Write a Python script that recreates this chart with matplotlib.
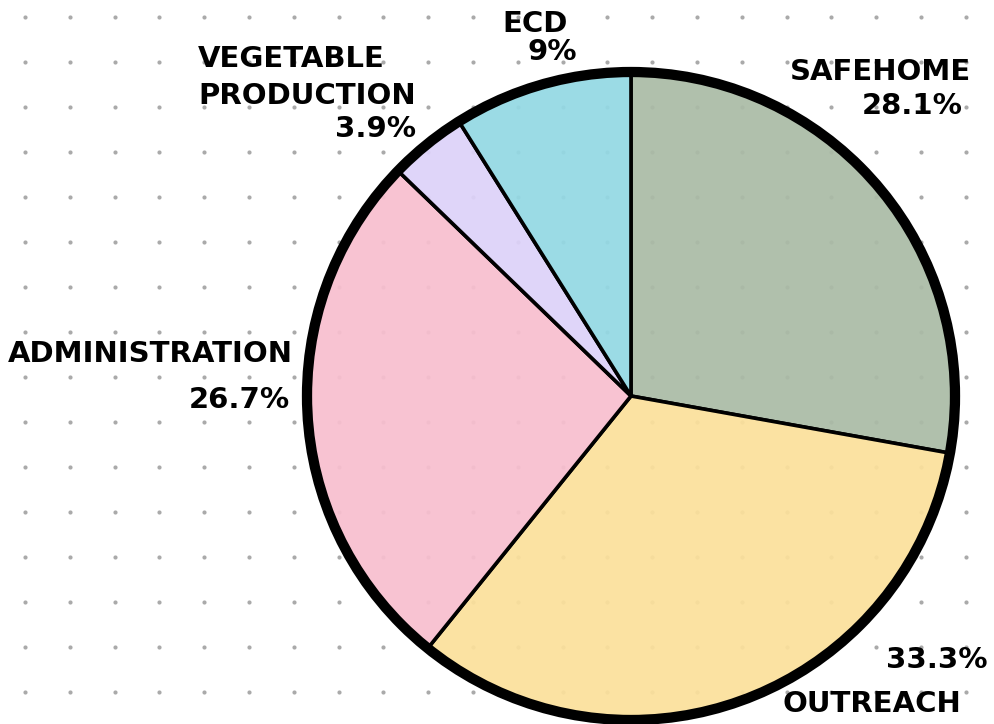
import matplotlib
matplotlib.use("Agg")
import matplotlib.pyplot as plt
import numpy as np
from matplotlib.patches import Circle
from matplotlib.colors import to_rgba

categories = ["SAFEHOME", "OUTREACH", "ADMINISTRATION", "VEGETABLE\nPRODUCTION", "ECD"]
values = [28.1, 33.3, 26.7, 3.9, 9]
pct_labels = ["28.1%", "33.3%", "26.7%", "3.9%", "9%"]
colors = ["#aabba6", "#fbe09b", "#f8bfcf", "#ddd2f9", "#94d9e4"]

W, H = 994, 724
fig = plt.figure(figsize=(W / 100, H / 100), dpi=100)
ax = fig.add_axes([0, 0, 1, 1])
ax.set_xlim(0, W)
ax.set_ylim(0, H)
ax.set_aspect("equal")
ax.axis("off")

# dotted background grid
gx = np.arange(25, W, 44.8)
gy = np.arange(16.7, H, 45.0)
XX, YY = np.meshgrid(gx, gy)
ax.scatter(XX.ravel(), H - YY.ravel(), s=9, color="#aaaaaa", zorder=0, linewidths=0)

cx, cy, r = 631, H - 396, 324
face = [to_rgba(c, 0.93) for c in colors]
wedges, _ = ax.pie(values, colors=face, startangle=90, counterclock=False,
                   center=(cx, cy), radius=r, frame=True,
                   wedgeprops=dict(edgecolor="black", linewidth=2.6, joinstyle="round"))
for w in wedges:
    w.set_zorder(2)
ax.add_patch(Circle((cx, cy), r, fill=False, edgecolor="black", linewidth=7.4, zorder=3))
ax.set_xlim(0, W)
ax.set_ylim(0, H)
ax.axis("off")

font = dict(family="DejaVu Sans", fontweight="bold", fontsize=21, color="black", zorder=5)

def put(x, y, s, ha="center"):
    ax.text(x, H - y, s, ha=ha, va="center", **font)

# Safehome
put(971, 72, categories[0], ha="right")
put(963, 106, pct_labels[0], ha="right")
# Outreach
put(988, 660, pct_labels[1], ha="right")
put(782, 704, categories[1], ha="left")
# Administration
put(8, 354, categories[2], ha="left")
put(290, 400, pct_labels[2], ha="right")
# Vegetable production
veg1, veg2 = categories[3].split("\n")
put(198, 59, veg1, ha="left")
put(198, 96, veg2, ha="left")
put(416, 129, pct_labels[3], ha="right")
# ECD
put(535, 24, categories[4])
put(552, 52, pct_labels[4])

fig.savefig("out.png", dpi=100)
